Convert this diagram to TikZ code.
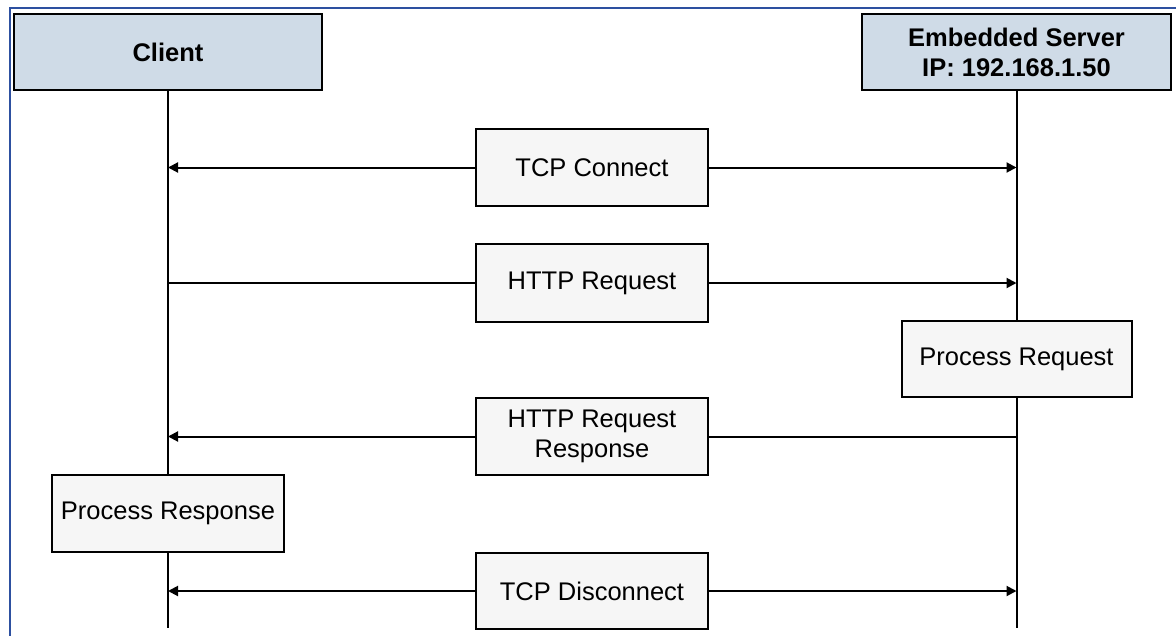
\documentclass[tikz,border=0pt]{standalone}
\usepackage{fontspec}
\setmainfont{Liberation Sans}
\usetikzlibrary{arrows.meta}
\definecolor{hdr}{RGB}{207,219,231}
\definecolor{frameblue}{RGB}{45,80,160}
\definecolor{boxfill}{RGB}{246,246,246}
\tikzset{
  hdrbox/.style={draw=black, line width=2pt, fill=hdr, inner sep=0pt, align=center,
    font=\bfseries\fontsize{25.5}{30}\selectfont},
  msgbox/.style={draw=black, line width=2pt, fill=boxfill, inner sep=0pt, align=center,
    minimum width=232pt, font=\fontsize{25.5}{30}\selectfont},
  life/.style={line width=2pt},
  msgline/.style={line width=2pt},
  tip/.style={line width=2pt, -{Triangle[length=10pt,width=10pt]}},
  bothtip/.style={line width=2pt, {Triangle[length=10pt,width=10pt]}-{Triangle[length=10pt,width=10pt]}}
}
\begin{document}
\begin{tikzpicture}[x=1pt,y=-1pt]
\useasboundingbox (0,0) rectangle (1176,635);
\fill[white] (0,0) rectangle (1176,635);
\draw[frameblue, line width=2.5pt] (10,636) -- (10,8) -- (1177,8);

% headers
\node[hdrbox, minimum width=308pt, minimum height=76pt] (client) at (168,52) {Client};
\node[hdrbox, minimum width=309pt, minimum height=76pt] (server) at (1016.5,52) {Embedded Server\\IP: 192.168.1.50};

% lifeline ends
\coordinate (cend) at (168,628);
\coordinate (send) at (1016.5,628);
\draw[life] (client.south) -- (cend);
\draw[life] (server.south) -- (send);

% message boxes
\node[msgbox, minimum height=77pt] (tcpc) at (592,167.5) {TCP Connect};
\node[msgbox, minimum height=78pt] (req) at (592,283) {HTTP Request};
\node[msgbox, minimum height=77pt] (resp) at (592,436.5) {HTTP Request\\Response};
\node[msgbox, minimum height=76pt] (tcpd) at (592,591) {TCP Disconnect};

% process boxes
\node[msgbox, minimum width=230pt, minimum height=76pt] (preq) at (1016.5,359) {Process Request};
\node[msgbox, minimum width=232pt, minimum height=77pt] (presp) at (168,513.5) {Process Response};

% connectors
\draw[tip] (tcpc.west) -- (tcpc.west -| client);
\draw[tip] (tcpc.east) -- (tcpc.east -| server);
\draw[msgline] (req.west -| client) -- (req.west);
\draw[tip] (req.east) -- (req.east -| server);
\draw[msgline] (resp.east -| server) -- (resp.east);
\draw[tip] (resp.west) -- (resp.west -| client);
\draw[tip] (tcpd.west) -- (tcpd.west -| client);
\draw[tip] (tcpd.east) -- (tcpd.east -| server);
\end{tikzpicture}
\end{document}
